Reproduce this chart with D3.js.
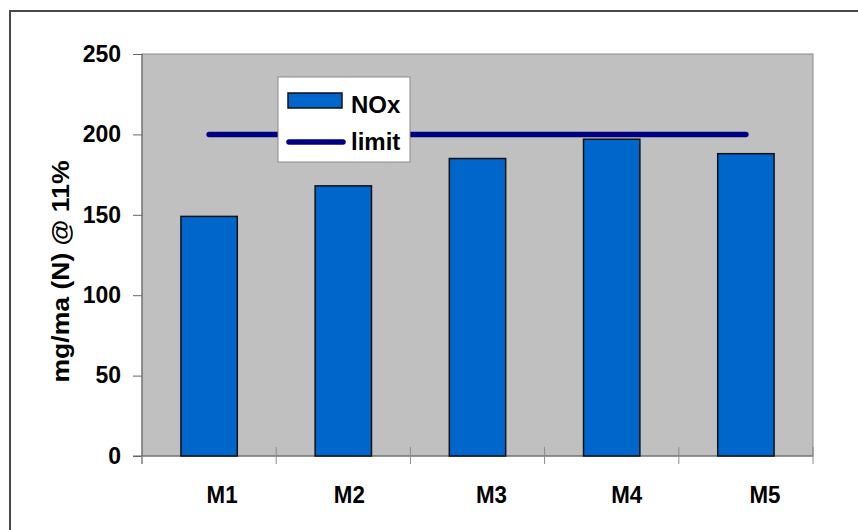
<!DOCTYPE html>
<html>
<head>
<meta charset="utf-8">
<script src="https://cdn.jsdelivr.net/npm/d3@7"></script>
<style>
  html, body { margin: 0; padding: 0; background: #fff; }
  svg { display: block; }
  text { font-family: "Liberation Sans", Arial, Helvetica, sans-serif; font-weight: bold; fill: #000; }
</style>
</head>
<body>
<svg id="chart" width="858" height="530"></svg>
<script>
// Measured NOx emissions per unit and the regulatory limit
const categories = ["M1", "M2", "M3", "M4", "M5"];
const noxValues = [149, 168, 185, 197, 188];
const limitValue = 200;
const yTicks = [0, 50, 100, 150, 200, 250];
const yTitle = "mg/ma (N)  @ 11%";
const legendLabels = ["NOx", "limit"];

// Layout
const W = 858, H = 530;
const plot = { left: 142, right: 813, top: 54, bottom: 456 };
const barColor = "#0066cc";
const limitColor = "#000080";
const labelShift = [13, 6, 14, 15, 19];

const svg = d3.select("#chart");

// Outer chart frame (only top/left edges fall inside the view)
svg.append("rect")
  .attr("x", 10).attr("y", 11)
  .attr("width", W + 20).attr("height", H + 20)
  .attr("fill", "#fff")
  .attr("stroke", "#4a4a4a").attr("stroke-width", 2);

const x = d3.scaleBand().domain(categories).range([plot.left, plot.right]).padding(0);
const y = d3.scaleLinear().domain([0, 250]).range([plot.bottom, plot.top]);

// Plot area
svg.append("rect")
  .attr("x", plot.left).attr("y", plot.top)
  .attr("width", plot.right - plot.left).attr("height", plot.bottom - plot.top)
  .attr("fill", "#c0c0c0")
  .attr("stroke", "#8a8a8a").attr("stroke-width", 1);

// Y axis
const yAxis = d3.axisLeft(y).tickValues(yTicks).tickSize(9).tickPadding(12);
const gy = svg.append("g").attr("transform", `translate(${plot.left},0)`).call(yAxis);
gy.select(".domain").attr("stroke", "#666").attr("d", `M0,${plot.top}V${plot.bottom + 8}`);
gy.selectAll(".tick line").attr("stroke", "#666");
gy.selectAll(".tick text")
  .attr("font-size", 23)
  .attr("font-family", "Liberation Sans, Arial, sans-serif")
  .attr("font-weight", "bold")
  .attr("fill", "#000");

// X axis: ticks sit on category boundaries
const boundaries = categories.map(c => x(c)).concat([x.range()[1]]);
const gx = svg.append("g");
gx.append("line")
  .attr("x1", plot.left - 9).attr("x2", plot.right)
  .attr("y1", plot.bottom).attr("y2", plot.bottom)
  .attr("stroke", "#666");
gx.selectAll("line.xt").data(boundaries).join("line")
  .attr("class", "xt")
  .attr("x1", d => d).attr("x2", d => d)
  .attr("y1", (d, i) => i === 0 ? plot.bottom : plot.bottom - 9)
  .attr("y2", plot.bottom + 8)
  .attr("stroke", "#8a8a8a");

gx.selectAll("text.xl").data(categories).join("text")
  .attr("class", "xl")
  .attr("x", (d, i) => x(d) + x.bandwidth() / 2 + labelShift[i])
  .attr("y", 503)
  .attr("text-anchor", "middle")
  .attr("font-size", 24)
  .attr("textLength", 31)
  .attr("lengthAdjust", "spacingAndGlyphs")
  .text(d => d);

// Bars
const barW = x.bandwidth() * 0.42;
svg.append("g").selectAll("rect").data(noxValues).join("rect")
  .attr("x", (d, i) => x(categories[i]) + (x.bandwidth() - barW) / 2)
  .attr("y", d => y(d))
  .attr("width", barW)
  .attr("height", d => y(0) - y(d))
  .attr("fill", barColor)
  .attr("stroke", "#111").attr("stroke-width", 1.5);

// Limit line across the units
const limitLine = d3.line().x(d => x(d) + x.bandwidth() / 2).y(() => y(limitValue));
svg.append("path")
  .attr("d", limitLine([categories[0], categories[categories.length - 1]]))
  .attr("fill", "none")
  .attr("stroke", limitColor).attr("stroke-width", 5.5)
  .attr("stroke-linecap", "round");

// Y axis title
svg.append("text")
  .attr("transform", "translate(69,271.5) rotate(-90)")
  .attr("text-anchor", "middle")
  .attr("font-size", 23)
  .attr("textLength", 222)
  .attr("lengthAdjust", "spacingAndGlyphs")
  .text(yTitle);

// Legend
const lg = svg.append("g");
lg.append("rect")
  .attr("x", 278).attr("y", 77).attr("width", 132).attr("height", 85)
  .attr("fill", "#fff").attr("stroke", "#8a8a8a").attr("stroke-width", 1);
lg.append("rect")
  .attr("x", 288).attr("y", 93).attr("width", 54).attr("height", 15)
  .attr("fill", barColor).attr("stroke", "#111").attr("stroke-width", 1.5);
lg.append("line")
  .attr("x1", 289).attr("x2", 343).attr("y1", 142).attr("y2", 142)
  .attr("stroke", limitColor).attr("stroke-width", 5.5).attr("stroke-linecap", "round");
lg.selectAll("text").data(legendLabels).join("text")
  .attr("x", 351)
  .attr("y", (d, i) => i === 0 ? 113 : 150)
  .attr("font-size", 24)
  .text(d => d);
</script>
</body>
</html>
